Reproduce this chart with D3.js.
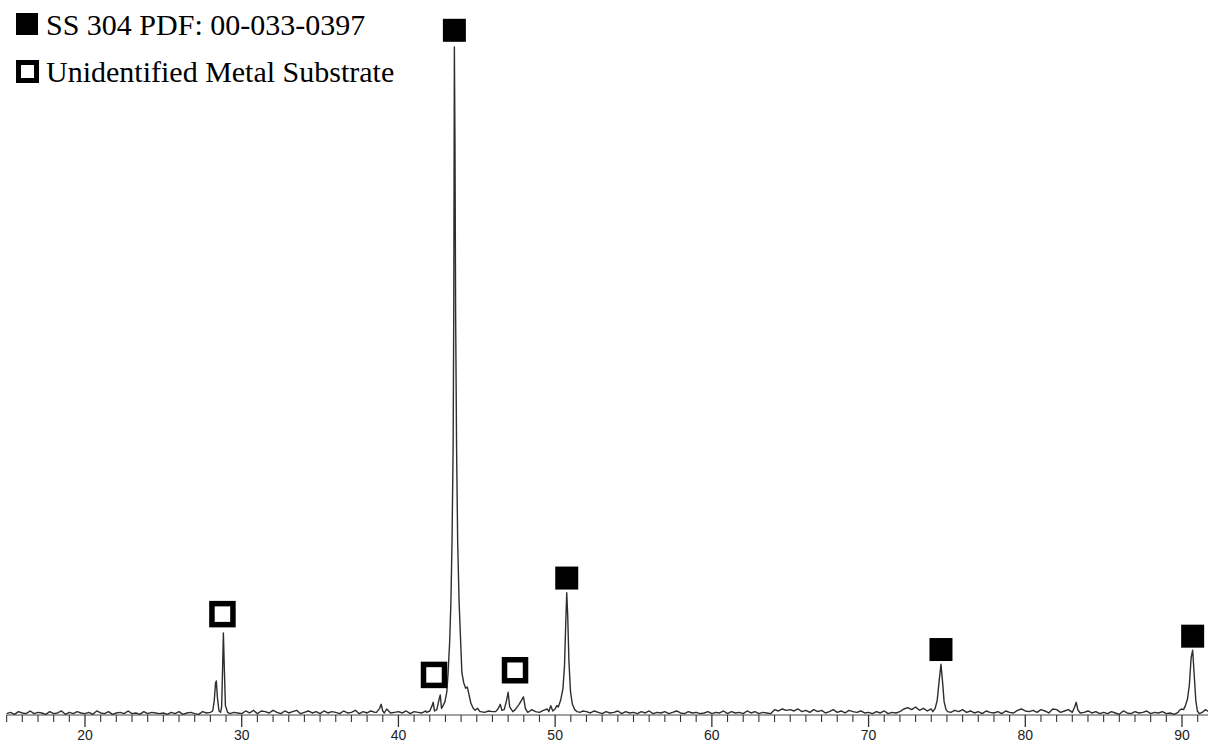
<!DOCTYPE html>
<html>
<head>
<meta charset="utf-8">
<script src="https://cdn.jsdelivr.net/npm/d3@7"></script>
<style>
  body { margin: 0; background: #fff; }
  svg { display: block; }
</style>
</head>
<body>
<div id="chart"></div>
<script>

// 2-theta scan, background counts every 0.25 deg from 15.0
var scanStart = 15.0;
var scanStep = 0.25;
var baselineCounts = [
  2,4,1,5,3,2,6,2,4,3, 1,5,2,3,6,1,4,2,5,3, 2,4,1,6,3,2,5,1,3,4, 2,6,2,3,1,5,2,4,3,2,
  3,1,4,2,5,1,3,4,2,1, 5,3,2,6,4,1,3,2,4,3, 2,6,3,7,2,6,5,3,7,4, 2,6,3,5,7,2,4,6,3,5,
  2,6,3,5,4,2,6,3,4,7, 2,5,3,6,4,2,5,9,3,4, 5,3,6,2,5,4,3,6,4,7, 5,8,6,9,10,12,14,12,10,9,
  7,5,4,6,5,3,6,8,6,5, 8,12,9,6,8,5,4,7,9,6, 8,10,12,14,16,12,8,6,5,3, 6,4,2,5,3,4,6,2,5,3,
  4,2,5,3,6,2,4,3,5,2, 4,6,3,2,5,3,4,2,3,5, 2,4,3,6,2,5,3,4,2,6, 3,5,2,4,3,2,8,6,9,7,
  8,6,9,5,7,4,8,5,7,3, 5,8,4,6,3,7,5,4,6,3, 4,2,5,3,6,2,4,3,5,9, 11,8,12,7,10,6,9,5,6,5,
  6,4,7,5,8,4,6,3,5,2, 6,4,3,5,2,6,4,3,7,9, 6,5,7,4,8,6,3,9,8,4, 6,8,3,5,2,4,6,3,5,2,
  4,2,5,3,1,6,3,2,5,3, 4,6,2,4,3,5,2,3,1,4, 6,8,10,14,2,3,6,4
];

// peak regions: [2theta, counts]
var peak28 = [[28.0,4],[28.15,6],[28.25,22],[28.33,48],[28.38,51],[28.45,26],[28.55,6],[28.65,4],
  [28.72,12],[28.78,70],[28.83,123],[28.89,70],[28.96,14],[29.1,4]];
var peak39 = [[38.6,4],[38.8,10],[38.9,16],[39.0,6],[39.1,3]];
var peak43 = [[41.8,4],[42.0,6],[42.15,14],[42.22,19],[42.3,6],[42.45,8],[42.6,24],[42.67,30],[42.75,10],
  [42.85,14],[42.97,20],[43.09,35],[43.17,63],[43.27,110],[43.35,170],[43.42,260],[43.49,400],[43.53,600],
  [43.57,1000],[43.61,850],[43.65,600],[43.71,400],[43.78,260],[43.87,170],[43.97,110],[44.05,63],
  [44.17,48],[44.29,40],[44.39,42],[44.49,32],[44.62,18],[44.77,10],[44.9,7],[45.05,10],[45.2,5]];
var peak47 = [[46.2,5],[46.35,9],[46.5,16],[46.6,7],[46.75,8],[46.9,22],[47.0,34],[47.1,12],[47.3,5],
  [47.45,8],[47.7,16],[47.85,22],[47.98,27],[48.1,10],[48.25,4],[48.4,6]];
var peak51 = [[49.6,5],[49.72,14],[49.85,6],[50.0,9],[50.1,14],[50.2,12],[50.35,22],[50.5,40],[50.6,75],
  [50.68,140],[50.74,183],[50.8,150],[50.88,80],[50.98,35],[51.1,16],[51.25,8],[51.4,5],[51.6,4]];
var peak75 = [[74.1,5],[74.25,10],[74.38,22],[74.5,50],[74.62,76],[74.72,50],[74.82,20],[74.94,8],[75.05,5]];
var peak83 = [[83.0,4],[83.15,12],[83.25,19],[83.35,8],[83.5,3]];
var peak91 = [[89.8,6],[89.95,9],[90.1,8],[90.22,14],[90.35,24],[90.47,45],[90.58,85],[90.68,97],
  [90.78,60],[90.88,22],[90.98,6],[91.1,2],[91.3,4],[91.5,8],[91.7,5]];
var peakSegments = [peak28, peak39, peak43, peak47, peak51, peak75, peak83, peak91];

// phase markers: [2theta, height of marker]
var ss304Markers = [[43.57,1025],[50.74,205],[74.62,98],[90.68,118]];
var substrateMarkers = [[28.77,151],[42.27,60],[47.44,67]];

var xMajorTicks = [20,30,40,50,60,70,80,90];
var xMinorTicks = d3.range(15, 92);
var legendLabels = ["SS 304 PDF: 00-033-0397", "Unidentified Metal Substrate"];

var width = 1208, height = 743;

var x = d3.scaleLinear().domain([20, 90]).range([85, 1182]);
var y = d3.scaleLinear().domain([0, 1000]).range([715, 47]);

var svg = d3.select("#chart").append("svg")
  .attr("width", width)
  .attr("height", height);

// merge background and peaks
var scan = baselineCounts.map(function(v, i){ return [scanStart + i*scanStep, v]; })
  .filter(function(p){
    return !peakSegments.some(function(seg){
      return p[0] >= seg[0][0] && p[0] <= seg[seg.length-1][0];
    });
  });
peakSegments.forEach(function(seg){ scan = scan.concat(seg); });
scan.sort(function(a, b){ return a[0] - b[0]; });

// axis
var axisG = svg.append("g").attr("class", "axis");
axisG.append("line")
  .attr("x1", x(15)).attr("x2", width)
  .attr("y1", y(0)).attr("y2", y(0))
  .attr("stroke", "#444").attr("stroke-width", 1.1);

axisG.selectAll(".minor")
  .data(xMinorTicks.filter(function(d){ return d % 10 != 0; }))
  .enter().append("line")
  .attr("class", "minor")
  .attr("x1", function(d){ return x(d); })
  .attr("x2", function(d){ return x(d); })
  .attr("y1", y(0)).attr("y2", y(0) + 7)
  .attr("stroke", "#333").attr("stroke-width", 1.1);

axisG.selectAll(".major")
  .data(xMajorTicks)
  .enter().append("line")
  .attr("class", "major")
  .attr("x1", function(d){ return x(d); })
  .attr("x2", function(d){ return x(d); })
  .attr("y1", y(0)).attr("y2", y(0) + 12)
  .attr("stroke", "#333").attr("stroke-width", 1.3);

axisG.selectAll(".label")
  .data(xMajorTicks)
  .enter().append("text")
  .attr("class", "label")
  .attr("x", function(d){ return x(d); })
  .attr("y", 740)
  .attr("text-anchor", "middle")
  .attr("font-family", "Arial, 'Liberation Sans', sans-serif")
  .attr("font-size", 14)
  .attr("fill", "#222")
  .text(function(d){ return d; });

// trace
var line = d3.line()
  .x(function(d){ return x(d[0]); })
  .y(function(d){ return y(d[1]); });

svg.append("path")
  .datum(scan)
  .attr("d", line)
  .attr("fill", "none")
  .attr("stroke", "#2e2e2e")
  .attr("stroke-width", 1.4)
  .attr("stroke-linejoin", "round");

// markers
svg.selectAll(".ss304")
  .data(ss304Markers)
  .enter().append("rect")
  .attr("class", "ss304")
  .attr("x", function(d){ return x(d[0]) - 11.5; })
  .attr("y", function(d){ return y(d[1]) - 11.5; })
  .attr("width", 23).attr("height", 23)
  .attr("fill", "#000");

svg.selectAll(".substrate")
  .data(substrateMarkers)
  .enter().append("rect")
  .attr("class", "substrate")
  .attr("x", function(d){ return x(d[0]) - 10.5; })
  .attr("y", function(d){ return y(d[1]) - 10.5; })
  .attr("width", 21).attr("height", 21)
  .attr("fill", "#fff")
  .attr("stroke", "#000")
  .attr("stroke-width", 5.5);

// legend
var legend = svg.append("g").attr("class", "legend");
legend.append("rect")
  .attr("x", 16).attr("y", 13).attr("width", 22).attr("height", 22)
  .attr("fill", "#000");
legend.append("rect")
  .attr("x", 18.5).attr("y", 62.5).attr("width", 18).attr("height", 18)
  .attr("fill", "#fff").attr("stroke", "#000").attr("stroke-width", 5);

legend.selectAll("text")
  .data(legendLabels)
  .enter().append("text")
  .attr("x", 46)
  .attr("y", function(d, i){ return 35 + i*47; })
  .attr("font-family", "'Liberation Serif', 'Times New Roman', serif")
  .attr("font-size", 30)
  .attr("fill", "#000")
  .text(function(d){ return d; });

</script>
</body>
</html>
